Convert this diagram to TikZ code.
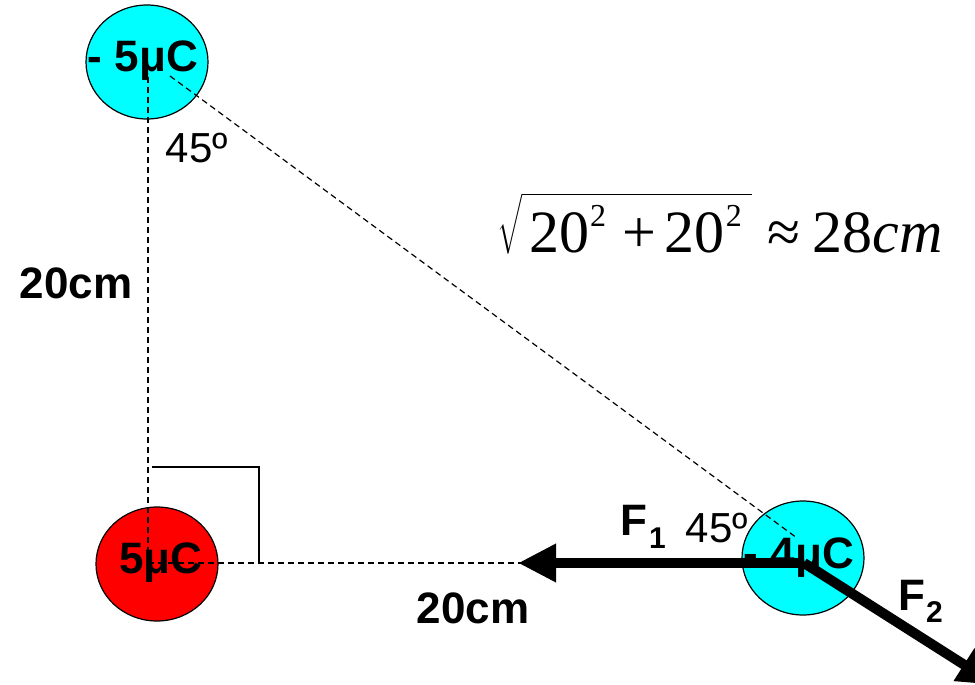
\documentclass[tikz,border=0pt]{standalone}
\usepackage{exscale}
\usepackage{fontspec}
\setmainfont{Liberation Sans}
\newfontfamily\tms{Liberation Serif}
\usetikzlibrary{arrows.meta,positioning,shapes.geometric}
\definecolor{aqua}{RGB}{0,255,255}
\newcommand\sqtwo{\kern1pt\raisebox{26pt}{\fontsize{32}{36}\selectfont 2}}
\begin{document}
\begin{tikzpicture}[x=1pt, y=-1pt, charge/.style={draw, ellipse, line width=1.2pt, minimum width=122pt, minimum height=114pt, inner sep=0pt}, lbl/.style={font=\fontsize{44}{50}\selectfont\bfseries, inner sep=0pt, anchor=base}, ang/.style={font=\fontsize{42}{50}\selectfont, inner sep=0pt, anchor=base}, dist/.style={dash pattern=on 6pt off 4pt, line width=1.2pt}, force/.style={line width=10pt, -{Triangle[length=38pt, width=36pt]}}]
\useasboundingbox (0,0) rectangle (975,685);
\clip (0,0) rectangle (975,685);
% charges
\node[charge, fill=aqua] (qtop) at (147,62) {};
\node[charge, fill=red] (qleft) at (157,564) {};
\node[charge, fill=aqua] (qright) at (803,558) {};
\coordinate (topend) at (148,77);
\coordinate (diagstart) at (170,76);
\coordinate (diagend) at (797,538);
\coordinate (corner) at (148,563);
\coordinate (rightend) at (804,563);
\coordinate (sqa) at (152,467);
\coordinate (sqb) at (259,467);
\coordinate (sqc) at (259,563);
\coordinate (f1tip) at (518,563);
\coordinate (f2tip) at (996,685);
% distances
\draw[dist] (topend) -- (corner);
\draw[dist] (corner) -- (rightend);
\draw[dist] (diagstart) -- (diagend);
\draw[line width=1.2pt] (sqa) -- (sqb) -- (sqc);
% forces
\draw[force] (rightend) -- (f1tip);
\draw[force] (rightend) -- (f2tip);
% labels
\node[lbl] (ltop) at (143,72) {- 5μC};
\node[lbl] (lleft) at (161,573) {5μC};
\node[lbl] (lright) at (799,568) {- 4μC};
\node[lbl] (dvert) at (76,298) {20cm};
\node[lbl] (dhor) at (473,623) {20cm};
\node[ang] (atop) at (197,162) {45º};
\node[ang] (aright) at (717,542) {45º};
\node[lbl, anchor=base west] (fone) at (620,535) {F\kern2pt\raisebox{-13pt}{\fontsize{30}{36}\selectfont 1}};
\node[lbl, anchor=base west] (ftwo) at (898,610) {F\kern1pt\raisebox{-12pt}{\fontsize{30}{36}\selectfont 2}};
\node[inner sep=0pt, anchor=base west, font=\fontsize{60}{70}\selectfont\tms] (hyp) at (497,252) {$\sqrt{\hbox{\rule{0pt}{54pt}\kern7pt 20\sqtwo\kern16pt+\kern9pt 20\sqtwo\kern10pt}}$\kern16pt≈\kern12pt 28\textit{cm}};
\end{tikzpicture}
\end{document}
